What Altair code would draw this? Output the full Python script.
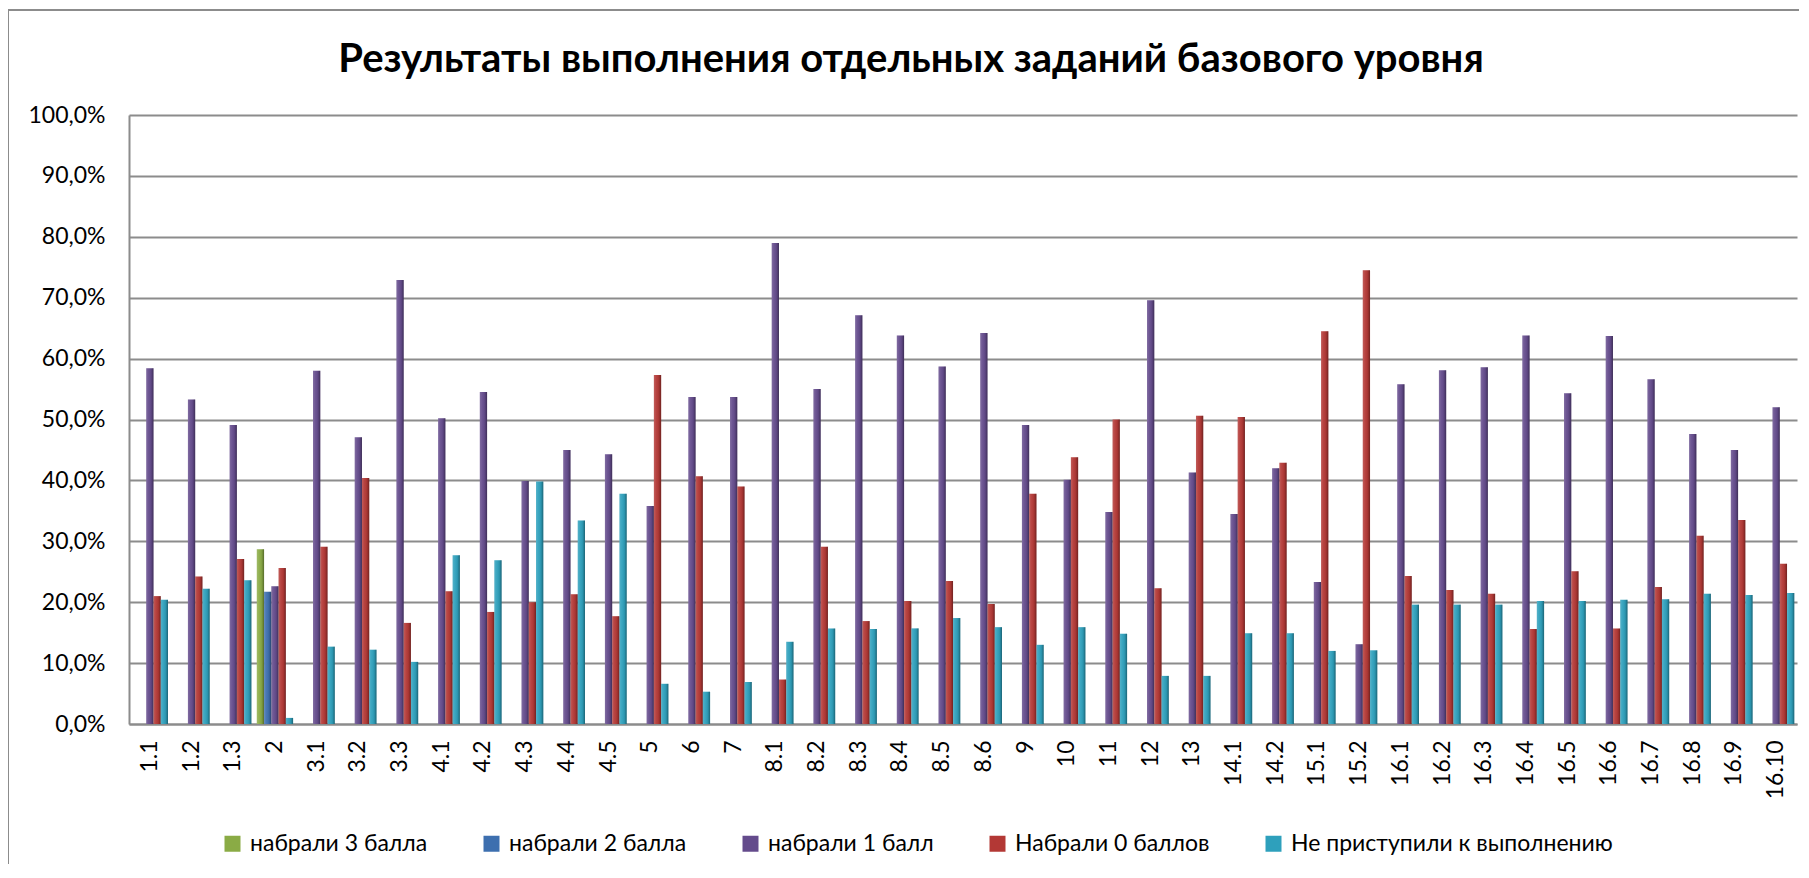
import altair as alt
import pandas as pd

tasks = ["1.1", "1.2", "1.3", "2", "3.1", "3.2", "3.3", "4.1", "4.2", "4.3", "4.4", "4.5",
         "5", "6", "7", "8.1", "8.2", "8.3", "8.4", "8.5", "8.6", "9", "10", "11", "12", "13",
         "14.1", "14.2", "15.1", "15.2", "16.1", "16.2", "16.3", "16.4", "16.5", "16.6",
         "16.7", "16.8", "16.9", "16.10"]

series_names = ["набрали 3 балла", "набрали 2 балла", "набрали 1 балл",
                "Набрали 0 баллов", "Не приступили к выполнению"]

chart_title = "Результаты выполнения отдельных заданий базового уровня"

# only task "2" has 3-point and 2-point results
score3 = {"2": 28.7}
score2 = {"2": 21.7}
score1 = [58.4, 53.3, 49.1, 22.6, 58.0, 47.1, 72.9, 50.2, 54.5, 39.9, 45.0, 44.3,
          35.8, 53.7, 53.7, 79.0, 55.0, 67.1, 63.8, 58.7, 64.2, 49.1, 40.1, 34.8, 69.6, 41.3,
          34.5, 42.0, 23.3, 13.1, 55.8, 58.1, 58.6, 63.8, 54.3, 63.7, 56.6, 47.6, 45.0, 52.0]
score0 = [21.0, 24.2, 27.1, 25.6, 29.1, 40.4, 16.6, 21.8, 18.4, 20.0, 21.3, 17.7,
          57.3, 40.7, 39.0, 7.3, 29.1, 16.9, 20.2, 23.5, 19.7, 37.8, 43.8, 50.0, 22.3, 50.6,
          50.4, 42.9, 64.5, 74.5, 24.3, 22.0, 21.4, 15.6, 25.1, 15.7, 22.5, 30.9, 33.5, 26.3]
not_started = [20.4, 22.2, 23.6, 1.0, 12.7, 12.2, 10.2, 27.7, 26.9, 39.8, 33.4, 37.8,
               6.6, 5.3, 6.9, 13.5, 15.7, 15.6, 15.7, 17.4, 15.9, 13.0, 15.9, 14.8, 7.9, 7.9,
               14.9, 14.9, 12.0, 12.1, 19.6, 19.6, 19.6, 20.2, 20.2, 20.4, 20.5, 21.4, 21.2, 21.5]

colors = ["#8AAB45", "#3D6FAF", "#644B8C", "#B33835", "#2EA0BC"]

rows = []
for i, t in enumerate(tasks):
    if t in score3:
        rows.append({"task": t, "series": series_names[0], "value": score3[t] / 100})
    if t in score2:
        rows.append({"task": t, "series": series_names[1], "value": score2[t] / 100})
    rows.append({"task": t, "series": series_names[2], "value": score1[i] / 100})
    rows.append({"task": t, "series": series_names[3], "value": score0[i] / 100})
    rows.append({"task": t, "series": series_names[4], "value": not_started[i] / 100})
df = pd.DataFrame(rows)

FONT = "Lato"
W, H = 1668, 609

x_enc = alt.X("task:N", sort=tasks, title=None,
              scale=alt.Scale(paddingInner=0.13, paddingOuter=0.065),
              axis=alt.Axis(labelAngle=-90, labelFontSize=23, labelFont=FONT,
                            labelColor="#000000", labelPadding=16, ticks=False,
                            domainColor="#8c8c8c", domainWidth=2, labelAlign="right",
                            labelBaseline="middle"))
xo_enc = alt.XOffset("series:N", scale=alt.Scale(domain=series_names, paddingInner=0,
                                                  paddingOuter=0))
y_enc = alt.Y("value:Q", title=None,
              scale=alt.Scale(domain=[0, 1]),
              axis=alt.Axis(values=[i / 10 for i in range(11)],
                            labelExpr="replace(format(datum.value, '.1%'), '.', ',')",
                            labelFontSize=23, labelFont=FONT, labelColor="#000000",
                            labelPadding=24, ticks=False, grid=True,
                            gridColor="#8c8c8c", gridWidth=2,
                            domainColor="#8c8c8c", domainWidth=2))

bars = alt.Chart(df).mark_bar().encode(
    x=x_enc,
    xOffset=xo_enc,
    y=y_enc,
    color=alt.Color("series:N",
                    scale=alt.Scale(domain=series_names, range=colors),
                    legend=alt.Legend(title=None, orient="none", legendX=92, legendY=717,
                                      direction="horizontal", symbolType="square",
                                      symbolSize=256, symbolStrokeWidth=0,
                                      labelFontSize=23, labelFont=FONT,
                                      labelColor="#000000", labelOffset=6,
                                      labelLimit=600, columnPadding=52)),
)

shade = alt.Chart(df).mark_bar(
    color=alt.Gradient(
        gradient="linear", x1=0, x2=1, y1=0, y2=0,
        stops=[alt.GradientStop(offset=0, color="rgba(255,255,255,0.18)"),
               alt.GradientStop(offset=0.35, color="rgba(255,255,255,0.05)"),
               alt.GradientStop(offset=0.7, color="rgba(0,0,0,0.08)"),
               alt.GradientStop(offset=1, color="rgba(0,0,0,0.38)")])
).encode(x=alt.X("task:N", sort=tasks), xOffset=xo_enc, y="value:Q")

one = pd.DataFrame({"a": [0]})
frame_left = alt.Chart(one).mark_rule(color="#8c8c8c", strokeWidth=2).encode(
    x=alt.value(-121), y=alt.value(-105), y2=alt.value(800))
frame_top = alt.Chart(one).mark_rule(color="#8c8c8c", strokeWidth=2).encode(
    x=alt.value(-121), x2=alt.value(1700), y=alt.value(-105))

title_mark = alt.Chart(pd.DataFrame({"t": [chart_title]})).mark_text(
    font=FONT, fontSize=40, fontWeight="bold", color="#000000",
    align="center", baseline="middle"
).encode(text="t:N", x=alt.value(782), y=alt.value(-55))

chart = alt.layer(frame_left, frame_top, bars, shade, title_mark).properties(
    width=W, height=H,
    padding={"left": 121, "top": 107, "right": 2, "bottom": 140},
    autosize=alt.AutoSizeParams(type="none"),
).configure_view(stroke=None)

chart.save("out.html", embed_options={"renderer": "svg", "actions": False})
